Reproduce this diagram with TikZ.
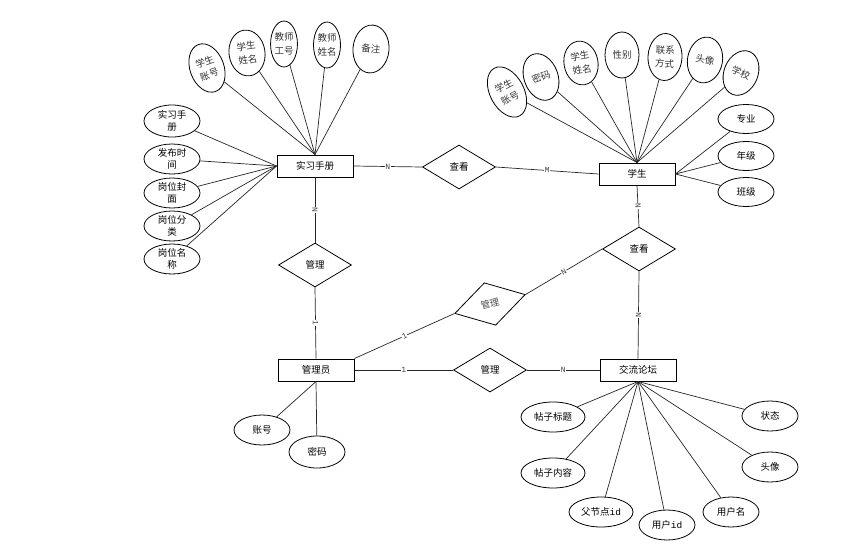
\documentclass[tikz,border=0pt]{standalone}
\usepackage{fontspec}
\setmainfont{Noto Sans CJK SC}
\newfontfamily\labfont{Liberation Mono}
\usetikzlibrary{shapes.geometric}
\begin{document}
\begin{tikzpicture}[x=1pt,y=-1pt,
  ent/.style={draw, line width=1pt, minimum width=76pt, minimum height=22pt, inner sep=0pt, font=\fontsize{9.5}{11}\selectfont},
  rel/.style={draw, line width=0.8pt, diamond, aspect=1.66, minimum width=73pt, minimum height=44pt, inner sep=0pt, font=\fontsize{9.5}{11}\selectfont},
  attr/.style={draw, line width=0.8pt, ellipse, inner sep=0pt, minimum width=56pt, minimum height=30pt, align=center, font=\fontsize{9.5}{12}\selectfont},
  tattr/.style={draw, line width=0.8pt, ellipse, inner sep=0pt, minimum width=34pt, minimum height=46pt, align=center, text=black!80, font=\fontsize{9.5}{13.5}\selectfont},
  conn/.style={line width=0.7pt, draw=black!85},
  card/.style={fill=white, inner sep=0.6pt, sloped, text=black!75, font=\labfont\fontsize{8}{8}\selectfont}
]
\useasboundingbox (0,0) rectangle (865,549);

% entities
\node[ent] (hb) at (315,166) {实习手册};
\node[ent] (xs) at (637,174) {学生};
\node[ent] (gly) at (316,370) {管理员};
\node[ent] (lt) at (638,370) {交流论坛};

% relations
\node[rel] (ck1) at (459,167) {查看};
\node[rel] (gl1) at (315,265) {管理};
\node[rel] (ck2) at (639,249) {查看};
\node[rel] (gl2) at (490,370) {管理};
\node[rel, rotate=15, text=black!70] (gl3) at (490,304) {管理};

% relationship connectors
\draw[conn] (hb.east) -- node[card]{N} (ck1.west);
\draw[conn] (ck1.east) -- node[card]{M} (xs.west);
\draw[conn] (hb.south) -- node[card]{N} (gl1.north);
\draw[conn] (gl1.south) -- node[card]{1} (gly.north);
\draw[conn] (xs.south) -- node[card]{N} (ck2.north);
\draw[conn] (ck2.south) -- node[card]{N} (lt.north);
\draw[conn] (gly.east) -- node[card]{1} (gl2.west);
\draw[conn] (gl2.east) -- node[card]{N} (lt.west);
\draw[conn] (gly.north east) -- node[card]{1} (gl3.west);
\draw[conn] (gl3.east) -- node[card]{N} (ck2.west);

% attributes of 实习手册 (top)
\node[tattr, minimum width=34pt, minimum height=50pt, rotate=20] (h1) at (207,68) {学生\\账号};
\node[tattr, minimum width=36pt, minimum height=46pt, rotate=8] (h2) at (247,53) {学生\\姓名};
\node[tattr, minimum width=26pt, minimum height=46pt] (h3) at (284,44) {教师\\工号};
\node[tattr, minimum width=27pt, minimum height=46pt] (h4) at (327,45) {教师\\姓名};
\node[tattr, minimum width=36pt, minimum height=48pt, rotate=-5] (h5) at (371,49) {备注};
\foreach \n in {h1,h2,h3,h4,h5} \draw[conn] (\n) -- (hb.north);

% attributes of 实习手册 (left)
\node[attr, minimum height=32pt] (h6) at (172,121) {实习手\\册};
\node[attr] (h7) at (172,159) {发布时\\间};
\node[attr] (h8) at (172,193) {岗位封\\面};
\node[attr] (h9) at (172,226) {岗位分\\类};
\node[attr] (h10) at (172,259) {岗位名\\称};
\foreach \n in {h6,h7,h8,h9,h10} \draw[conn] (\n) -- (hb.west);

% attributes of 学生 (top)
\node[tattr, minimum width=34pt, minimum height=54pt, rotate=28] (x1) at (507,92) {学生\\账号};
\node[tattr, minimum width=34pt, minimum height=48pt, rotate=20] (x2) at (541,77) {密码};
\node[tattr, minimum width=34pt, minimum height=44pt, rotate=10] (x3) at (581,63) {学生\\姓名};
\node[tattr, minimum width=34pt, minimum height=46pt] (x4) at (622,55) {性别};
\node[tattr, minimum width=34pt, minimum height=47pt, rotate=-3] (x5) at (665,57) {联系\\方式};
\node[tattr, minimum width=35pt, minimum height=46pt, rotate=-10] (x6) at (705,60) {头像};
\node[tattr, minimum width=34pt, minimum height=46pt, rotate=-22] (x7) at (741,73) {学校};
\foreach \n in {x1,x2,x3,x4,x5,x6,x7} \draw[conn] (\n) -- (xs.north);

% attributes of 学生 (right)
\node[attr, minimum height=29pt] (x8) at (746,119) {专业};
\node[attr, minimum height=29pt] (x9) at (746,156) {年级};
\node[attr, minimum height=29pt] (x10) at (746,192) {班级};
\foreach \n in {x8,x9,x10} \draw[conn] (\n) -- (xs.east);

% attributes of 管理员
\node[attr] (g1) at (262,430) {账号};
\node[attr, minimum height=32pt] (g2) at (317,452) {密码};
\foreach \n in {g1,g2} \draw[conn] (\n) -- (gly.south);

% attributes of 交流论坛
\node[attr, minimum width=64pt] (l1) at (553,417) {帖子标题};
\node[attr, minimum width=64pt] (l2) at (553,473) {帖子内容};
\node[attr, minimum width=64pt] (l3) at (601,512) {父节点{\labfont id}};
\node[attr] (l4) at (667,525) {用户{\labfont id}};
\node[attr] (l5) at (731,512) {用户名};
\node[attr] (l6) at (770,467) {头像};
\node[attr] (l7) at (770,416) {状态};
\foreach \n in {l1,l2,l3,l4,l5,l6,l7} \draw[conn] (\n) -- (lt.south);
\end{tikzpicture}
\end{document}
